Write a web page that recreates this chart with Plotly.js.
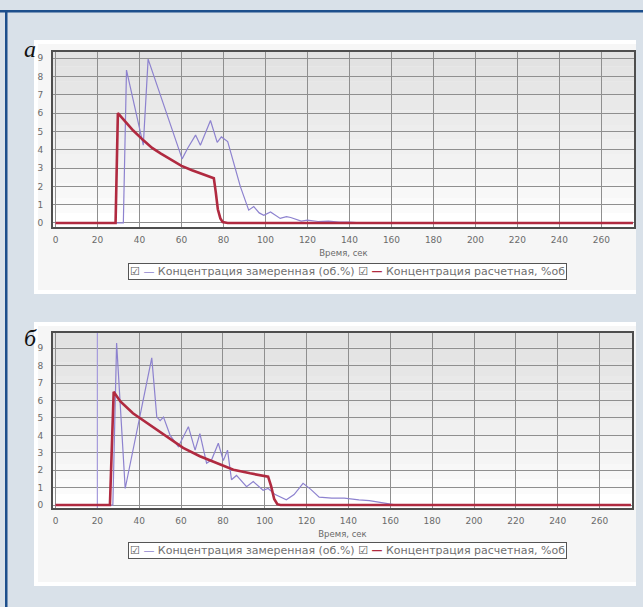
<!DOCTYPE html>
<html>
<head>
<meta charset="utf-8">
<script src="https://cdn.plot.ly/plotly-3.0.1.min.js"></script>
<style>html,body{margin:0;padding:0;background:#d9e1e9;}#chart{width:643px;height:607px;}</style>
</head>
<body>
<div id="chart"></div>
<script>
// ---- Data ----
// Panel а
const timeA_meas = [0, 32.3, 33.8, 38, 41.8, 44.1, 60.3, 63, 66.7, 69, 73.8, 77, 79, 82, 84, 88, 92, 94.4, 97, 99.2, 102.4, 107, 110, 112, 117, 120, 125, 130, 135, 140, 145, 275];
const concA_meas = [0, 0, 8.35, 6.2, 4.25, 8.95, 3.5, 4.1, 4.8, 4.25, 5.6, 4.4, 4.7, 4.45, 3.6, 2.0, 0.7, 0.9, 0.55, 0.42, 0.6, 0.25, 0.35, 0.3, 0.1, 0.15, 0.08, 0.1, 0.05, 0.05, 0, 0];
const timeA_calc = [0, 28.6, 29.7, 33, 37, 42, 46, 50, 55, 60, 65, 70, 75.4, 76.3, 77.3, 78.5, 79.6, 82, 275];
const concA_calc = [0, 0, 6.0, 5.55, 5.05, 4.5, 4.1, 3.8, 3.45, 3.12, 2.88, 2.68, 2.44, 1.7, 0.75, 0.25, 0.05, 0, 0];
// Panel б
const timeB_meas = [0, 27.4, 29.2, 33.3, 46, 48.4, 50, 51.6, 54.8, 58.7, 63.5, 66.7, 69, 72.2, 74.6, 77.8, 80.2, 82.2, 84.1, 86.5, 91.3, 94.5, 99.2, 101.6, 105, 110.3, 114, 118.3, 122, 126, 132, 138, 145, 150, 158, 163, 275];
const concB_meas = [0, 0, 9.3, 0.95, 8.45, 5.05, 4.85, 5.05, 4.0, 3.35, 4.5, 3.15, 4.1, 2.4, 2.6, 3.55, 2.55, 3.15, 1.45, 1.7, 1.05, 1.35, 0.85, 0.95, 0.6, 0.3, 0.6, 1.25, 0.9, 0.45, 0.4, 0.4, 0.3, 0.25, 0.1, 0, 0];
const timeB_calc = [0, 26, 27.8, 31, 37, 45, 53, 61, 69, 77, 85, 93, 101.6, 103, 104.5, 106, 107.5, 275];
const concB_calc = [0, 0, 6.5, 5.95, 5.27, 4.6, 3.93, 3.28, 2.8, 2.4, 2.03, 1.82, 1.63, 1.1, 0.35, 0.05, 0, 0];
const cursorB = [20];

const seriesNames = ["Концентрация замеренная (об.%)", "Концентрация расчетная, %об"];
const panelLabels = ["а", "б"];
const xTitle = "Время, сек";

// ---- Styling ----
const W = 643, H = 607;
const px = v => v / W, py = v => 1 - v / H;
const measColor = "#8d82cf", calcColor = "#b02a40";
const tickFont = {family: "DejaVu Sans, sans-serif", size: 9, color: "#6a6a6a"};

function xAx(l, r, anchor) {
  return {domain: [px(l), px(r)], anchor: anchor, range: [-1.2, 275.5], tick0: 0, dtick: 20,
    showgrid: true, gridcolor: "#8f8f8f", gridwidth: 1, zeroline: false,
    showline: true, mirror: true, linecolor: "#4e4e4e", linewidth: 2,
    ticks: "", ticklabelstandoff: 3, tickfont: tickFont, fixedrange: true,
    title: {text: xTitle, font: {family: "DejaVu Sans, sans-serif", size: 8.5, color: "#6a6a6a"}, standoff: 6}};
}
function yAx(b, t, rng, anchor) {
  return {domain: [py(b), py(t)], anchor: anchor, range: rng, tick0: 0, dtick: 1,
    showgrid: true, gridcolor: "#8f8f8f", gridwidth: 1, zeroline: false,
    showline: true, mirror: true, linecolor: "#4e4e4e", linewidth: 2,
    ticks: "", ticklabelstandoff: 6, tickfont: tickFont, fixedrange: true};
}

const traces = [
  {x: timeA_meas, y: concA_meas, xaxis: "x", yaxis: "y", mode: "lines", name: seriesNames[0], line: {color: measColor, width: 1.2}, showlegend: false},
  {x: timeA_calc, y: concA_calc, xaxis: "x", yaxis: "y", mode: "lines", name: seriesNames[1], line: {color: calcColor, width: 2.6}, showlegend: false},
  {x: [cursorB[0], cursorB[0]], y: [-0.2, 9.9], xaxis: "x2", yaxis: "y2", mode: "lines", line: {color: "#a99ee0", width: 1.2}, showlegend: false, hoverinfo: "skip"},
  {x: timeB_meas, y: concB_meas, xaxis: "x2", yaxis: "y2", mode: "lines", name: seriesNames[0], line: {color: measColor, width: 1.2}, showlegend: false},
  {x: timeB_calc, y: concB_calc, xaxis: "x2", yaxis: "y2", mode: "lines", name: seriesNames[1], line: {color: calcColor, width: 2.6}, showlegend: false}
];

const shapes = [
  // frame lines of the page
  {type: "rect", xref: "paper", yref: "paper", x0: 0, x1: 1, y0: py(12.5), y1: py(10), fillcolor: "#1d4f8c", line: {width: 0}, layer: "below"},
  {type: "rect", xref: "paper", yref: "paper", x0: px(5), x1: px(7.5), y0: 0, y1: py(10), fillcolor: "#1d4f8c", line: {width: 0}, layer: "below"},
  // white cards
  {type: "rect", xref: "paper", yref: "paper", x0: px(34), x1: px(636), y0: py(294), y1: py(40), fillcolor: "#ffffff", line: {width: 0}, layer: "below"},
  {type: "rect", xref: "paper", yref: "paper", x0: px(34), x1: px(636), y0: py(586), y1: py(322), fillcolor: "#ffffff", line: {width: 0}, layer: "below"},
  // light gray fill around plot area inside card
  {type: "rect", xref: "paper", yref: "paper", x0: px(38), x1: px(636), y0: py(290), y1: py(44), fillcolor: "#f6f6f6", line: {width: 0}, layer: "below"},
  {type: "rect", xref: "paper", yref: "paper", x0: px(38), x1: px(636), y0: py(582), y1: py(326), fillcolor: "#f6f6f6", line: {width: 0}, layer: "below"}
];
// gradient bands inside plot areas
const nb = 12;
for (const [xr, yr] of [["x domain", "y domain"], ["x2 domain", "y2 domain"]]) {
  for (let i = 0; i < nb; i++) {
    const t = i / (nb - 1);
    const g = Math.round(255 - (255 - 226) * Math.pow(t, 0.8));
    shapes.push({type: "rect", xref: xr, yref: yr, x0: 0, x1: 1, y0: i / nb, y1: (i + 1) / nb,
      fillcolor: `rgb(${g},${g},${g})`, line: {width: 0}, layer: "below"});
  }
}

const legendText = `<span style="color:#555">☑</span> <span style="color:${measColor}">—</span> ${seriesNames[0]} <span style="color:#555">☑</span> <span style="color:${calcColor}"><b>—</b></span> ${seriesNames[1]}`;
const legendFont = {family: "DejaVu Sans, sans-serif", size: 11, color: "#707070"};
const annotations = [
  {xref: "paper", yref: "paper", x: px(22), y: py(34), text: `<i>${panelLabels[0]}</i>`, showarrow: false,
    font: {family: "Liberation Serif, serif", size: 24, color: "#111"}},
  {xref: "paper", yref: "paper", x: px(22), y: py(338), text: `<i>${panelLabels[1]}</i>`, showarrow: false,
    font: {family: "Liberation Serif, serif", size: 24, color: "#111"}},
  {xref: "paper", yref: "paper", x: px(347), y: py(271), text: legendText, showarrow: false,
    font: legendFont, bgcolor: "#ffffff", bordercolor: "#555", borderwidth: 1, borderpad: 1},
  {xref: "paper", yref: "paper", x: px(347), y: py(559), text: legendText, showarrow: false,
    font: legendFont, bgcolor: "#ffffff", bordercolor: "#555", borderwidth: 1, borderpad: 1}
];

const layout = {
  width: W, height: H, margin: {l: 0, r: 0, t: 0, b: 0},
  paper_bgcolor: "#d9e1e9", plot_bgcolor: "rgba(0,0,0,0)", showlegend: false,
  xaxis: xAx(53, 634, "y"), yaxis: yAx(227, 52, [-0.22, 9.34], "x"),
  xaxis2: xAx(53, 632, "y2"), yaxis2: yAx(508, 333, [-0.17, 9.88], "x2"),
  shapes: shapes, annotations: annotations
};

Plotly.newPlot("chart", traces, layout, {staticPlot: true, displayModeBar: false});
</script>
</body>
</html>
